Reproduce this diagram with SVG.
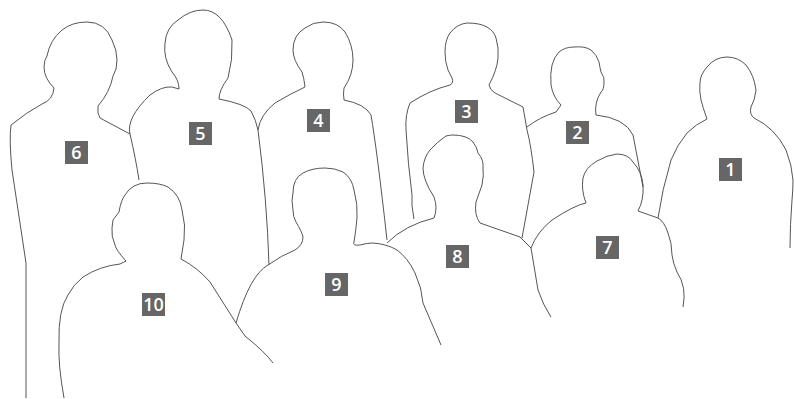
<svg xmlns="http://www.w3.org/2000/svg" width="794" height="399" viewBox="0 0 794 399">
<style>
.o{fill:none;stroke:#555;stroke-width:1;stroke-linejoin:round;stroke-linecap:butt}
.b{fill:#666}
.t{fill:#fff;font-family:"Open Sans","Noto Sans",sans-serif;font-size:18px;font-weight:600;text-anchor:middle}
</style>
<rect width="794" height="399" fill="#fff"/>
<g id="person-6"><path class="o" d="M26 398L26 263L12 170Q9 140 11 125Q27 112 42 104Q53 100 54 88Q44 78 44 67Q44 60 47 56Q50 40 62 30Q72 22 87 22Q105 22 112 40Q117 50 117 60Q117 70 113 76Q110 92 98 106Q97 114 100 118L130 134Q136 160 139 180"/><rect class="b" x="65" y="141" width="23" height="23"/><text class="t" x="76.500" y="159">6</text></g>
<g id="person-5"><path class="o" d="M130 134Q126 118 150 95Q162 86 172 87L179 89Q179 80 172 72Q163 58 165 43Q166 28 178 20Q190 10 203 10Q222 10 232 40Q233 60 228 78Q219 90 219 99Q245 104 251 111Q256 120 258 130Q267 200 269 265"/><rect class="b" x="189" y="122" width="23" height="23"/><text class="t" x="200.500" y="140">5</text></g>
<g id="person-4"><path class="o" d="M258 130Q260 115 275 103Q290 94 305 87Q304 78 302 72Q293 60 293 50Q293 35 305 28Q313 22 323 22Q338 22 345 32Q353 45 353 60Q353 75 344 88Q343 94 344 100Q365 104 371 115Q377 150 387 240"/><rect class="b" x="307" y="109" width="23" height="23"/><text class="t" x="318.500" y="127">4</text></g>
<g id="person-3"><path class="o" d="M414 219Q411 205 412 195Q408 165 406 130Q405 115 410 103Q430 90 450 85Q454 83 452 78L448 70Q445 62 445 52Q445 40 450 33Q457 24 467 23Q480 23 487 27Q494 31 496 38Q499 48 498 58Q497 70 489 85Q490 90 495 93L523 107L527 130Q531 145 534 172L522 238"/><rect class="b" x="455" y="100" width="23" height="23"/><text class="t" x="466.500" y="118">3</text></g>
<g id="person-2"><path class="o" d="M527 127Q540 117 556 112L561 105Q553 97 551 85Q549 62 559 52Q565 47 574 47Q585 46 591 50Q597 55 599 62Q600 68 601 72Q605 78 604 82Q604 90 601 92Q594 103 596 115Q625 118 633 135L643 187"/><rect class="b" x="566" y="121" width="23" height="23"/><text class="t" x="577.500" y="139">2</text></g>
<g id="person-1"><path class="o" d="M658 218Q662 190 671 160Q677 145 687 133Q696 124 707 119Q703 108 701 100Q699 90 700 83Q700 75 707 67Q715 57 727 57Q738 57 746 65Q754 75 756 90Q755 100 751 107Q749 114 754 118Q775 128 786 150Q792 165 793 180Q793 190 792 200Q790 225 790 248"/><rect class="b" x="719" y="158" width="23" height="23"/><text class="t" x="730.500" y="176">1</text></g>
<g id="person-7"><path class="o" d="M531 248Q537 232 552 220Q575 205 586 203Q581 190 583 178Q585 168 597 161Q607 155 617 154Q628 154 633 162Q642 172 643 185Q644 200 638 211L658 218Q664 221 668 233Q672 243 672 255Q673 263 677 272Q687 287 683 307"/><rect class="b" x="596" y="236" width="23" height="23"/><text class="t" x="607.500" y="254">7</text></g>
<g id="person-8"><path class="o" d="M387 243Q405 225 434 218Q438 208 434 197Q423 180 423 168Q424 157 430 150Q437 142 446 136Q450 135 453 135Q467 135 473 142Q477 147 478 153Q484 160 483 168Q484 175 482 185L476 202Q474 215 480 223L520 237L531 248L538 290Q543 305 551 317"/><rect class="b" x="446" y="245" width="23" height="23"/><text class="t" x="457.500" y="263">8</text></g>
<g id="person-9"><path class="o" d="M236 323Q250 275 268 265Q282 255 295 250Q303 245 303 237Q302 232 296 222Q293 217 293 210Q291 200 293 193Q293 178 303 173Q312 168 325 168Q335 168 343 172Q352 178 354 190Q358 205 357 218Q356 230 354 242Q352 246 360 245Q367 243 373 243Q387 244 397 250Q408 258 415 273Q422 288 423 303L441 345"/><rect class="b" x="325" y="273" width="23" height="23"/><text class="t" x="336.500" y="291">9</text></g>
<g id="person-10"><path class="o" d="M64 398Q58 365 59 343Q58 310 68 295Q73 285 83 277Q100 266 120 264L126 261Q116 250 115 245Q111 236 112 228L113 220L119 212Q121 200 125 195Q132 183 147 183Q160 183 168 187Q180 195 182 210Q186 225 184 240L181 259Q198 268 210 282L236 323L245 336Q265 352 273 363"/><rect class="b" x="142" y="293" width="23" height="23"/><text class="t" x="153.500" y="311">10</text></g>
</svg>
